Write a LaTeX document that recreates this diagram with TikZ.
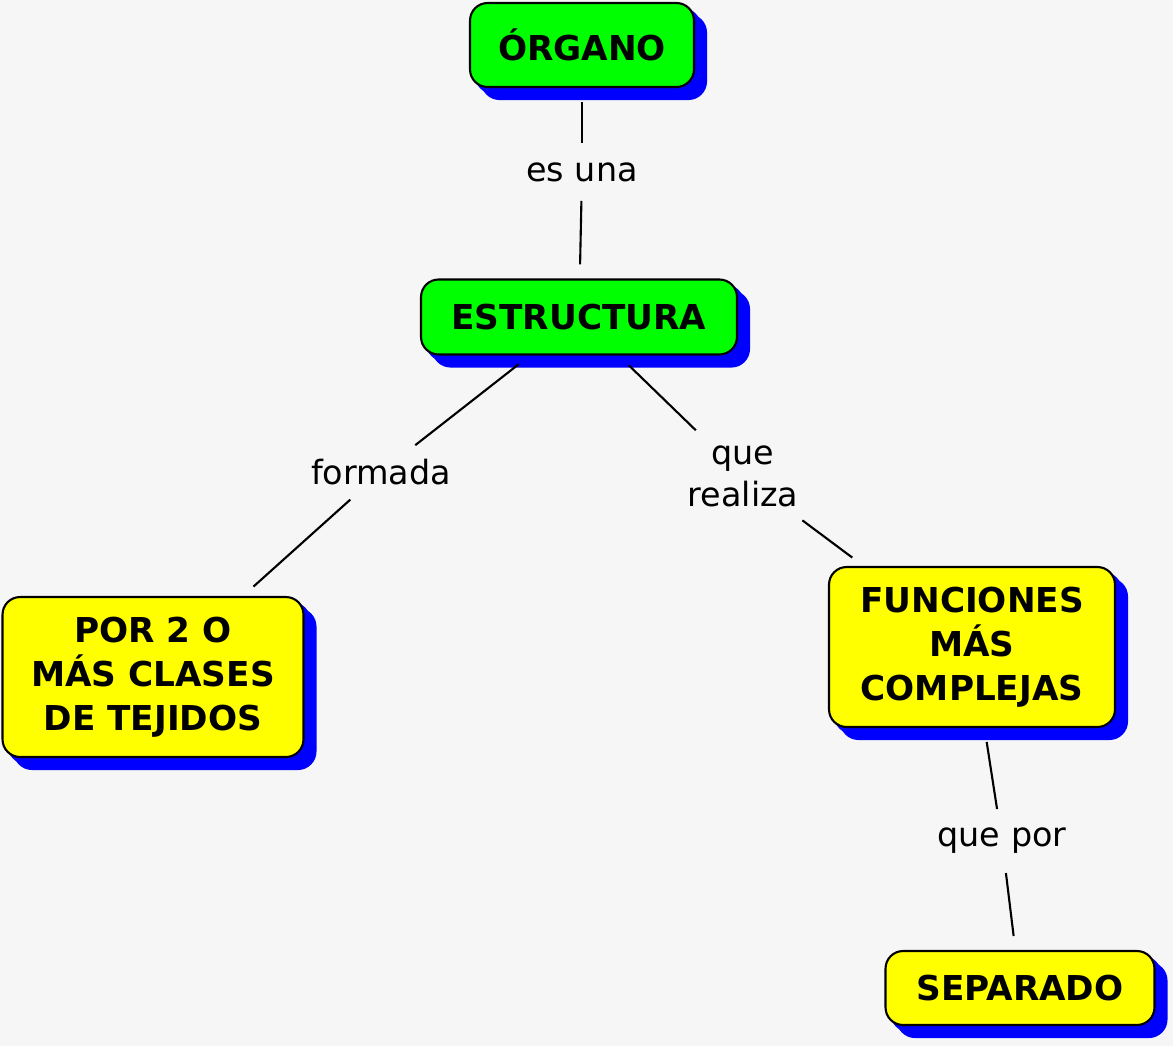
\documentclass[tikz,border=0pt]{standalone}
\usepackage{fontspec}
\setmainfont{DejaVu Sans}
\usetikzlibrary{positioning}
\usetikzlibrary{shadows}
\definecolor{bgcol}{RGB}{247,246,247}
\definecolor{greenbox}{RGB}{0,255,0}
\definecolor{yellowbox}{RGB}{255,255,0}
\tikzstyle{concept} = [rectangle, rounded corners=10pt, draw=black, line width=1.2pt, text centered, align=center,
  font=\fontsize{19.5}{25}\selectfont\bfseries, inner sep=0pt,
  double copy shadow={shadow xshift=0.12cm, shadow yshift=-0.12cm, fill=blue, draw=blue, opacity=1}]
\tikzstyle{linkword} = [fill=bgcol, align=center, font=\fontsize{19}{24}\selectfont, inner sep=1pt, outer sep=2pt]
\tikzstyle{link} = [line width=1.2pt, shorten <=8pt, shorten >=8pt]
\begin{document}
\begin{tikzpicture}[x=0.02cm,y=-0.02cm]
		\fill[bgcol] (0,0) rectangle (1173,1046);
		\useasboundingbox (0,0) rectangle (1173,1046);
		
		\node (organo) [concept,fill=greenbox,minimum width=4.48cm,minimum height=1.68cm] at (582,45) {ÓRGANO};
		\node (estructura) [concept,fill=greenbox,minimum width=6.32cm,minimum height=1.5cm] at (579,317) {ESTRUCTURA};
		\node (tejidos) [concept,fill=yellowbox,minimum width=6.02cm,minimum height=3.2cm] at (153,677) {POR 2 O\\MÁS CLASES\\DE TEJIDOS};
		\node (funciones) [concept,fill=yellowbox,minimum width=5.72cm,minimum height=3.2cm] at (972,647) {FUNCIONES\\MÁS\\COMPLEJAS};
		\node (separado) [concept,fill=yellowbox,minimum width=5.38cm,minimum height=1.48cm] at (1020,988) {SEPARADO};
		
		\node (esuna) [linkword] at (582,172) {es una};
		\node (formada) [linkword] at (381,472) {formada};
		\node (querealiza) [linkword] at (743,476) {que\\realiza};
		\node (quepor) [linkword] at (1002,841) {que por};
		
		\draw [link] (organo) -- (esuna);
		\draw [link] (esuna) -- (estructura);
		\draw [link] (estructura) -- (formada);
		\draw [link] (formada) -- (tejidos);
		\draw [link] (estructura) -- (querealiza);
		\draw [link] (querealiza) -- (funciones);
		\draw [link] (funciones) -- (quepor);
		\draw [link] (quepor) -- (separado);
		
	\end{tikzpicture}
\end{document}
